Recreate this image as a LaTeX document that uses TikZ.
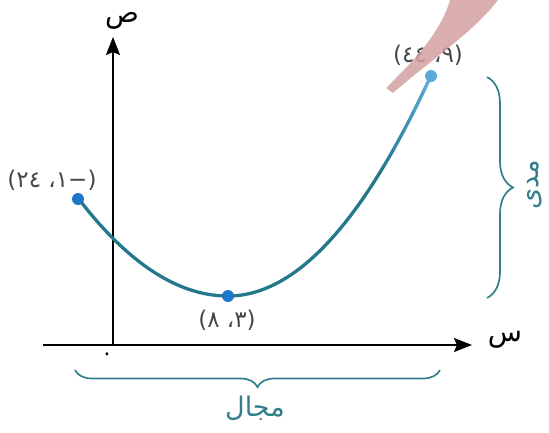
\documentclass[tikz,border=0pt]{standalone}
\usepackage{fontspec}
\usetikzlibrary{arrows.meta,decorations.pathreplacing}
\newfontfamily\arabicfont[Script=Arabic]{DejaVu Sans}
\TeXXeTstate=1
\definecolor{curveteal}{RGB}{35,120,140}
\definecolor{dotblue}{RGB}{30,118,200}
\definecolor{lightdot}{RGB}{92,170,218}
\definecolor{bracecol}{RGB}{52,126,140}
\definecolor{smear}{RGB}{212,160,160}

\begin{document}
\begin{tikzpicture}[x=1pt, y=-1pt,
    axis/.style={line width=1.7pt, -{Stealth[length=18pt, width=14pt, inset=3pt]}},
    curve/.style={curveteal, line width=3.3pt, line cap=round},
    dotpt/.style={circle, fill=dotblue, inner sep=0pt, minimum size=12pt},
    coord/.style={font=\arabicfont\fontsize{23}{25}\selectfont, text=black!72},
    axlbl/.style={font=\arabicfont\fontsize{28}{30}\selectfont},
    curly/.style={bracecol, line width=1.7pt, decorate, decoration={brace, amplitude=#1}},
    blbl/.style={font=\arabicfont\fontsize{27}{29}\selectfont, text=bracecol}
  ]
  \useasboundingbox (0,0) rectangle (549,432);

  % axes
  \coordinate (o) at (113,345);
  \coordinate (xl) at (43,345);
  \coordinate (xr) at (472,345);
  \coordinate (yt) at (113,37);
  \draw[axis] (xl) -- (xr);
  \draw[axis] (o) -- (yt);
  \node[axlbl] (xlab) at (505,340) {س};
  \node[axlbl] (ylab) at (122,21) {ص};
  \node[font=\arabicfont\fontsize{22}{24}\selectfont] (zero) at (107,357) {٠};

  % f(x) = x^2 - 6x + 17
  \draw[curve] plot[domain=-1:3, samples=40, smooth] ({228+(\x-3)*37.5}, {345-6.125*(\x*\x-6*\x+17)});
  \draw[curve] plot[domain=3:7.6, samples=40, smooth] ({228+(\x-3)*33.83}, {345-6.125*(\x*\x-6*\x+17)});
  \foreach \a/\b/\c in {7.6/7.9/15, 7.9/8.2/35, 8.2/8.5/55, 8.5/8.8/75, 8.8/9/95}
    \draw[curve, color=lightdot!\c!curveteal] plot[domain=\a:\b, samples=6, smooth] ({228+(\x-3)*33.83}, {345-6.125*(\x*\x-6*\x+17)});

  \node[dotpt] (pA) at (78,199) {};
  \node[dotpt] (pB) at (228,296) {};
  \node[dotpt, fill=lightdot] (pC) at (431,76) {};
  \node[coord] (lA) at (52,180) {\beginR(−١، ٢٤)\endR};
  \node[coord] (lB) at (428,55) {\beginR(٩، ٤٤)\endR};
  \node[coord] (lC) at (227,320) {\beginR(٣، ٨)\endR};

  % domain and range
  \coordinate (dl) at (75,370);
  \coordinate (dr) at (440,370);
  \draw[curly=17pt, decoration={mirror}] (dl) -- (dr);
  \node[blbl] (dom) at (255,408) {\beginR مجال\endR};
  \coordinate (rt) at (487,77);
  \coordinate (rb) at (487,298);
  \draw[curly=26pt] (rt) -- (rb);
  \node[blbl, rotate=90] (rng) at (535,185) {\beginR مدى\endR};

  \fill[smear, opacity=0.85] (386,88) .. controls (410,64) and (440,35) .. (450,0)
    -- (498,0) .. controls (474,32) and (428,62) .. (393,93) -- cycle;
\end{tikzpicture}
\end{document}
